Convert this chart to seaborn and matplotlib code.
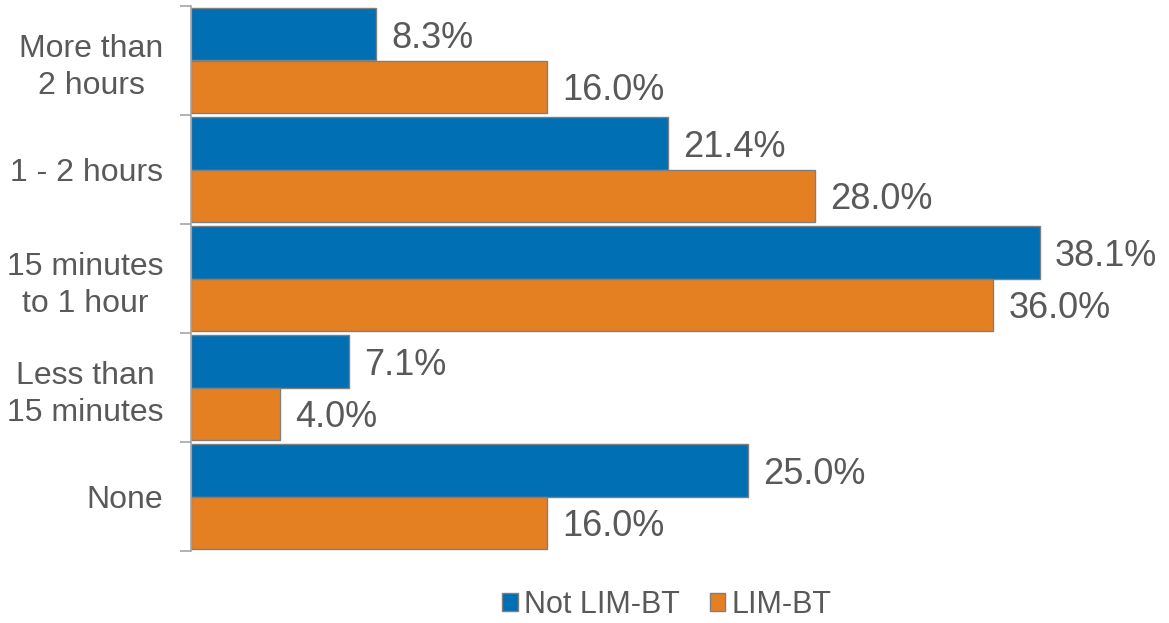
import matplotlib
matplotlib.use("Agg")
import matplotlib.pyplot as plt
import seaborn as sns
import pandas as pd
from matplotlib.ticker import FixedLocator

categories = ["More than\n2 hours", "1 - 2 hours", "15 minutes\nto 1 hour", "Less than\n15 minutes", "None"]
not_lim_bt = [8.3, 21.4, 38.1, 7.1, 25.0]
lim_bt = [16.0, 28.0, 36.0, 4.0, 16.0]
series = ["Not LIM-BT", "LIM-BT"]
colors = ["#006FB4", "#E47F22"]

sns.set_theme(style="white")
plt.rcParams['font.family'] = ['Liberation Sans', 'DejaVu Sans']

df = pd.DataFrame({
    "category": categories * 2,
    "value": not_lim_bt + lim_bt,
    "series": [series[0]] * len(categories) + [series[1]] * len(categories),
})

fig = plt.figure(figsize=(11.69, 6.23), dpi=100)
ax = fig.add_axes([191/1169, 1 - 551/623, (1082-191)/1169, (551-6)/623])

sns.barplot(data=df, y="category", x="value", hue="series", order=categories,
            hue_order=series, palette=colors, saturation=1, orient="h", width=0.96,
            edgecolor="#7F7F7F", linewidth=1.0, ax=ax, legend=True)

ax.set_xlim(0, 40)
ax.set_ylim(len(categories) - 0.5, -0.5)
ax.set_xlabel("")
ax.set_ylabel("")
ax.set_xticks([])
for s in ["top", "right", "bottom"]:
    ax.spines[s].set_visible(False)
ax.spines["left"].set_color("#A6A6A6")
ax.spines["left"].set_linewidth(1.2)

ax.tick_params(axis="y", which="major", length=0, pad=20, labelsize=23, labelcolor="#595959")
ax.yaxis.set_minor_locator(FixedLocator([i - 0.5 for i in range(len(categories) + 1)]))
ax.tick_params(axis="y", which="minor", length=8, width=1.2, color="#A6A6A6", left=True)
for lbl in ax.get_yticklabels():
    lbl.set_horizontalalignment("right")
    lbl.set_multialignment("center")
    lbl.set_linespacing(1.3)

for cont in ax.containers:
    texts = ax.bar_label(cont, labels=[f"{v:.1f}%" for v in cont.datavalues], padding=11,
                         fontsize=26, color="#595959")
    for t in texts:
        t.xyann = (t.xyann[0], -3)

handles, labels = ax.get_legend_handles_labels()
ax.legend_.remove()
fig.legend(handles, labels, loc="center", bbox_to_anchor=(667/1169, 1 - 605/623),
           ncol=2, frameon=False, fontsize=22, labelcolor="#595959",
           handlelength=0.5, handleheight=0.5, handletextpad=0.2, columnspacing=1.0)

fig.savefig("out.png", dpi=100)
